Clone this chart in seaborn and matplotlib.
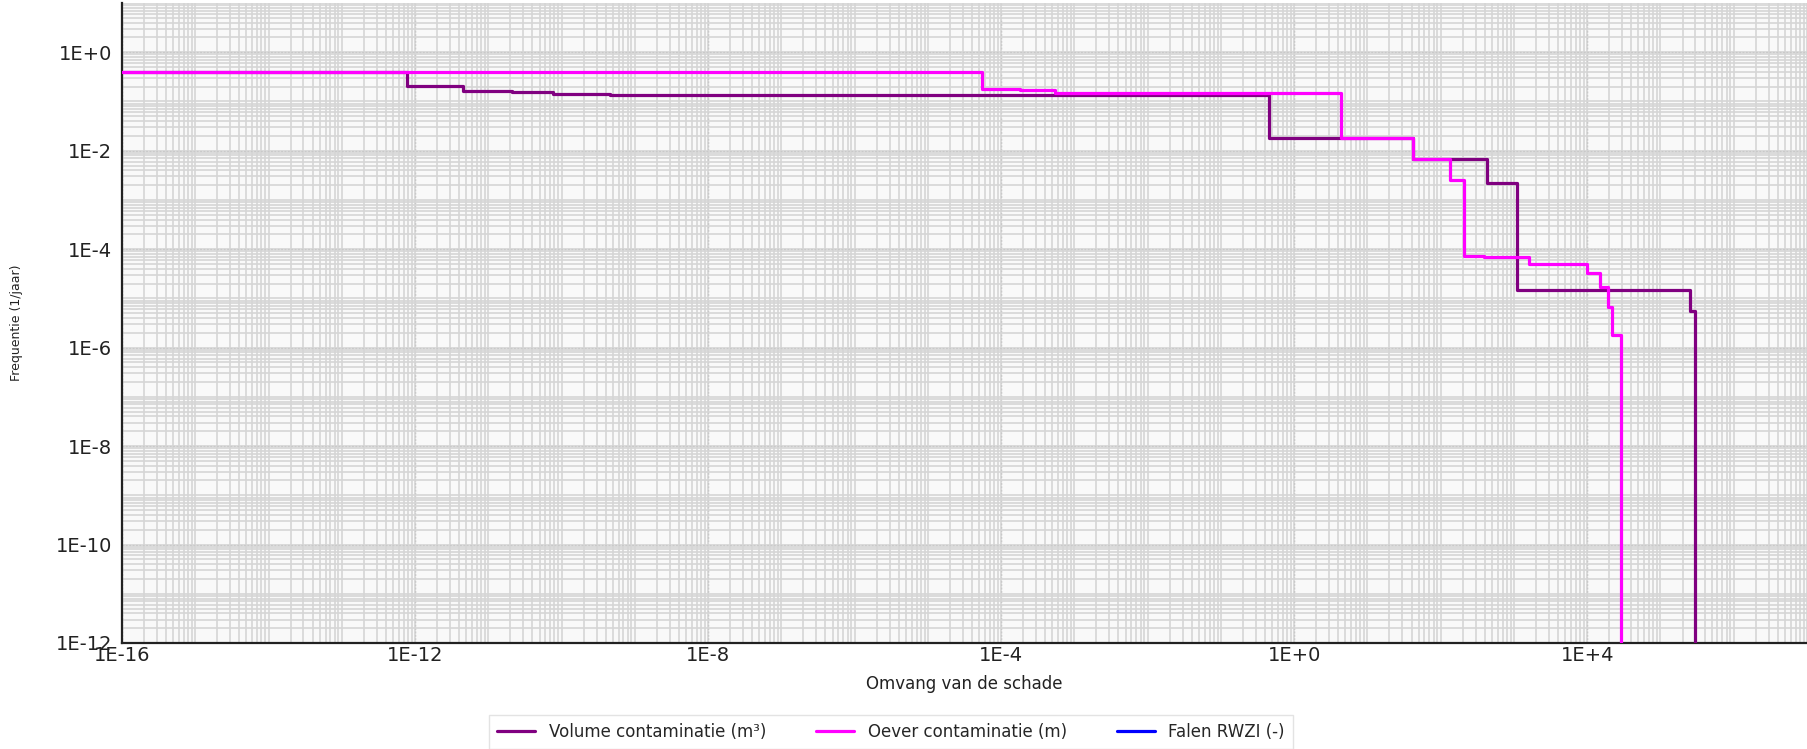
import numpy as np
import pandas as pd
import matplotlib
matplotlib.use("Agg")
import matplotlib.pyplot as plt
from matplotlib.ticker import LogLocator, NullFormatter
from matplotlib.lines import Line2D
import seaborn as sns

# Exceedance curves: start of each step (x) and frequency level held from there (y)
volume_x = [1e-16, 7.7e-13, 4.5e-12, 2.1e-11, 7.7e-11, 4.6e-10, 0.45, 42, 430, 1100, 2.5e5, 3.0e5]
volume_y = [0.39, 0.21, 0.165, 0.155, 0.143, 0.134, 0.018, 0.0069, 0.0022, 1.5e-5, 5.5e-6, 1e-14]

oever_x = [1e-16, 5.5e-5, 1.8e-4, 5.5e-4, 4.3, 42, 135, 205, 385, 1585, 1e4, 1.5e4, 1.9e4, 2.2e4, 2.9e4]
oever_y = [0.39, 0.18, 0.167, 0.15, 0.018, 0.0069, 0.0025, 7.3e-5, 6.8e-5, 4.9e-5, 3.3e-5, 1.7e-5, 6.7e-6, 1.8e-6, 1e-14]

falen_x = []
falen_y = []

series_names = ["Volume contaminatie (m³)", "Oever contaminatie (m)", "Falen RWZI (-)"]
series_colors = ["#800080", "#FF00FF", "#0000FF"]

xtick_values = [1e-16, 1e-12, 1e-8, 1e-4, 1e0, 1e4]
xtick_labels = ["1E-16", "1E-12", "1E-8", "1E-4", "1E+0", "1E+4"]
ytick_values = [1e-12, 1e-10, 1e-8, 1e-6, 1e-4, 1e-2, 1e0]
ytick_labels = ["1E-12", "1E-10", "1E-8", "1E-6", "1E-4", "1E-2", "1E+0"]

x_limits = (1e-16, 1e7)
y_limits = (1e-12, 1e1)

sns.set_theme(style="white")
plt.rcParams["font.family"] = ["DejaVu Sans"]

W, H = 1807, 749
fig = plt.figure(figsize=(W / 100, H / 100), dpi=100)
ax = fig.add_axes([122 / W, 1 - 643 / H, (W - 122) / W, (643 - 3) / H])
ax.set_facecolor("#F9F9F9")

df = pd.concat([
    pd.DataFrame({"omvang": volume_x, "freq": volume_y, "reeks": series_names[0]}),
    pd.DataFrame({"omvang": oever_x, "freq": oever_y, "reeks": series_names[1]}),
])
palette = dict(zip(series_names, series_colors))

sns.lineplot(data=df, x="omvang", y="freq", hue="reeks", palette=palette,
             estimator=None, sort=False, drawstyle="steps-post",
             linewidth=2.3, legend=False, ax=ax, zorder=5)
ax.plot(falen_x, falen_y, color=series_colors[2], linewidth=2.3)

ax.set_xscale("log")
ax.set_yscale("log")
ax.set_xlim(*x_limits)
ax.set_ylim(*y_limits)

ax.set_xticks(xtick_values)
ax.set_xticklabels(xtick_labels)
ax.set_yticks(ytick_values)
ax.set_yticklabels(ytick_labels)

ax.xaxis.set_minor_locator(LogLocator(base=10, subs=np.arange(1, 10), numticks=200))
ax.yaxis.set_minor_locator(LogLocator(base=10, subs=np.arange(1, 10), numticks=200))
ax.xaxis.set_minor_formatter(NullFormatter())
ax.yaxis.set_minor_formatter(NullFormatter())
ax.xaxis.remove_overlapping_locs = False
ax.yaxis.remove_overlapping_locs = False

ax.grid(which="minor", color="#D6D6D6", linewidth=1.2, linestyle="-")
ax.grid(which="major", color="#8A8A8A", linewidth=0.9, linestyle=(0, (1.5, 1.2)))
ax.set_axisbelow(True)

ax.tick_params(axis="both", which="both", length=0)
ax.tick_params(axis="x", which="major", labelsize=14, pad=2, labelcolor="#222222")
ax.tick_params(axis="y", which="major", labelsize=14, pad=7, labelcolor="#222222")

for side in ["top", "right"]:
    ax.spines[side].set_visible(False)
for side in ["left", "bottom"]:
    ax.spines[side].set_color("#222222")
    ax.spines[side].set_linewidth(1.6)

ax.set_xlabel("Omvang van de schade", fontsize=12, color="#222222")
ax.xaxis.set_label_coords(0.5, -0.05)
ax.set_ylabel("Frequentie (1/jaar)", fontsize=9, color="#222222")
ax.yaxis.set_label_coords(-0.059, 0.5)

handles = [Line2D([], [], color=c, linewidth=2.3) for c in series_colors]
leg = fig.legend(handles, series_names, loc="center",
                 bbox_to_anchor=(891 / W, 1 - 732 / H), ncol=3, fontsize=12,
                 frameon=True, fancybox=False, edgecolor="#DDDDDD",
                 handlelength=2.3, handletextpad=0.8, columnspacing=3.0,
                 borderpad=0.5)
leg.get_frame().set_linewidth(1.0)

fig.savefig("out.png", dpi=100, facecolor="white")
